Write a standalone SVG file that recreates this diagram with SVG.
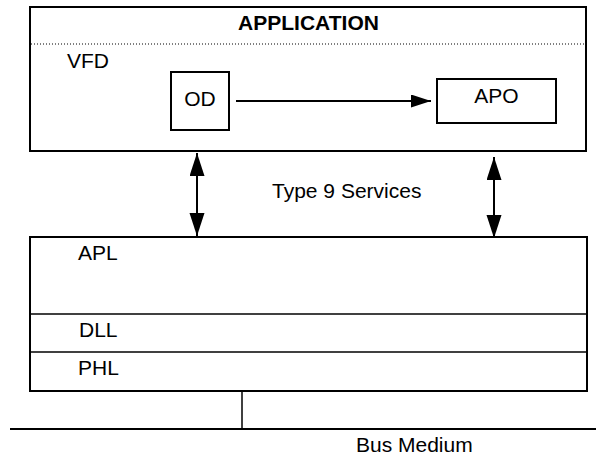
<svg xmlns="http://www.w3.org/2000/svg" width="596" height="456" viewBox="0 0 596 456">
<style>
text{font-family:"Liberation Sans",Arial,sans-serif;font-size:21px;fill:#000}
.b{font-weight:bold}
.box{fill:#fff;stroke:#000;stroke-width:2}
.ln{stroke:#000;stroke-width:2;fill:none}
.thin{stroke:#000;stroke-width:1.5;fill:none}
</style>
<defs>
<marker id="ah" markerWidth="24" markerHeight="16" refX="23" refY="7.5" orient="auto-start-reverse" markerUnits="userSpaceOnUse">
<path d="M0,0 L23,7.5 L0,15 Z" fill="#000"/>
</marker>
<marker id="ahs" markerWidth="21" markerHeight="14" refX="20" refY="6.5" orient="auto" markerUnits="userSpaceOnUse">
<path d="M0,0 L20,6.5 L0,13 Z" fill="#000"/>
</marker>
</defs>
<g id="application">
<rect class="box" x="30" y="7" width="556" height="144"/>
<line x1="31" y1="44" x2="585" y2="44" stroke="#000" stroke-width="1" stroke-dasharray="1,2"/>
<text class="b" x="308.5" y="30" text-anchor="middle">APPLICATION</text>
<text x="67" y="68">VFD</text>
</g>
<g id="od">
<rect class="box" x="171" y="72" width="58" height="58"/>
<text x="200" y="106" text-anchor="middle">OD</text>
</g>
<g id="apo">
<rect class="box" x="437" y="79" width="119" height="44"/>
<text x="496.5" y="103" text-anchor="middle">APO</text>
</g>
<g id="stack">
<rect class="box" x="30" y="237" width="557" height="154"/>
<line class="thin" x1="30" y1="314" x2="587" y2="314"/>
<line class="thin" x1="30" y1="352" x2="587" y2="352"/>
<text x="78" y="260">APL</text>
<text x="79" y="337">DLL</text>
<text x="78" y="375">PHL</text>
</g>
<g id="bus">
<line class="ln" x1="10" y1="429" x2="596" y2="429"/>
<text x="356" y="452">Bus Medium</text>
</g>
<g id="services-label">
<text x="272" y="198">Type 9 Services</text>
</g>
<g id="connectors">
<line class="ln" x1="236" y1="101" x2="431" y2="101" marker-end="url(#ahs)"/>
<line class="ln" x1="197" y1="153" x2="197" y2="236" stroke-width="2.5" marker-start="url(#ah)" marker-end="url(#ah)"/>
<line class="ln" x1="494" y1="157" x2="494" y2="238" stroke-width="2.5" marker-start="url(#ah)" marker-end="url(#ah)"/>
<line class="thin" x1="242" y1="391" x2="242" y2="429"/>
</g>
</svg>
